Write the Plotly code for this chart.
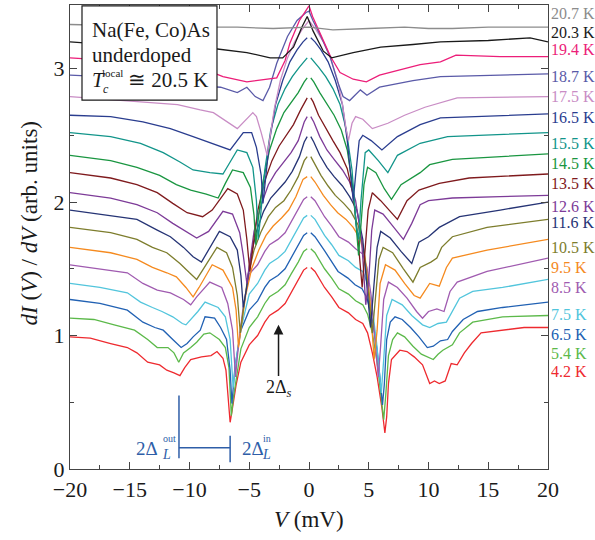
import plotly.graph_objects as go

SERIF = "Liberation Serif, Times New Roman, serif"

T_LABELS = ["4.2 K", "5.4 K", "6.5 K", "7.5 K", "8.5 K", "9.5 K", "10.5 K", "11.6 K", "12.6 K",
            "13.5 K", "14.5 K", "15.5 K", "16.5 K", "17.5 K", "18.7 K", "19.4 K", "20.3 K", "20.7 K"]

COLORS = ["#ee2a2f", "#5cb94a", "#2161b3", "#52c5dc", "#a05bb0", "#f58a1f", "#7d7d2d", "#263475",
          "#7d3b98", "#7f1a1d", "#1a9641", "#12958a", "#2a3d8f", "#c98dc5", "#5a5aa8", "#ec1e79",
          "#1a1a1a", "#8c8c8c"]

# (V in mV, dI/dV in arb. units); None = break at zero bias
S_4K2 = [(-20, 0.99), (-18.3, 0.98), (-16.6, 0.94), (-15.2, 0.91), (-14.4, 0.87), (-13.5, 0.80), (-12.5, 0.78),
         (-11.9, 0.74), (-11.3, 0.72), (-10.8, 0.70), (-10.4, 0.76), (-9.9, 0.82), (-9.0, 0.84), (-8.2, 0.85),
         (-7.7, 0.88), (-7.2, 0.83), (-6.95, 0.74), (-6.75, 0.55), (-6.6, 0.35), (-6.45, 0.43), (-6.1, 0.63),
         (-5.7, 0.80), (-5.0, 0.93), (-4.3, 1.00), (-3.7, 1.10), (-3.3, 1.15), (-2.6, 1.19), (-2.0, 1.24),
         (-1.5, 1.32), (-0.9, 1.41), (-0.45, 1.49), (-0.15, 1.51), (0, None), (0.15, 1.51), (0.5, 1.48),
         (1.3, 1.36), (1.9, 1.29), (2.5, 1.21), (3.3, 1.17), (3.9, 1.12), (4.5, 1.09), (4.9, 1.02), (5.3, 0.87),
         (5.7, 0.69), (6.1, 0.46), (6.35, 0.27), (6.5, 0.39), (6.65, 0.64), (6.9, 0.82), (7.6, 0.89), (8.2, 0.88),
         (8.8, 0.84), (9.5, 0.78), (10.1, 0.64), (10.5, 0.66), (10.9, 0.64), (11.4, 0.66), (11.9, 0.79),
         (12.4, 0.78), (13.0, 0.87), (13.6, 0.94), (14.4, 1.02), (16.0, 1.04), (18.0, 1.06), (20, 1.06)]

S_5K4 = [(-20, 1.13), (-18.0, 1.12), (-16.3, 1.08), (-14.6, 1.04), (-13.5, 0.97), (-12.7, 0.91), (-11.8, 0.91),
         (-11.3, 0.87), (-10.9, 0.80), (-10.5, 0.87), (-9.9, 0.91), (-9.4, 0.95), (-8.8, 1.01), (-8.3, 1.02),
         (-7.5, 0.97), (-7.0, 0.91), (-6.7, 0.76), (-6.5, 0.40), (-6.35, 0.52), (-6.1, 0.68), (-5.7, 0.90),
         (-5.0, 1.06), (-4.3, 1.14), (-3.7, 1.24), (-3.3, 1.29), (-2.6, 1.33), (-2.0, 1.38), (-1.5, 1.46),
         (-0.9, 1.55), (-0.45, 1.63), (-0.15, 1.65), (0, None), (0.15, 1.65), (0.5, 1.62), (1.3, 1.50),
         (1.9, 1.43), (2.5, 1.35), (3.3, 1.31), (3.9, 1.26), (4.5, 1.23), (4.9, 1.16), (5.3, 1.02), (5.7, 0.80),
         (6.0, 0.55), (6.25, 0.37), (6.42, 0.55), (6.65, 0.85), (7.0, 0.97), (7.4, 1.02), (8.0, 0.99), (8.7, 0.92),
         (9.4, 0.86), (9.9, 0.84), (10.4, 0.82), (10.8, 0.86), (11.2, 0.89), (12.0, 0.93), (12.6, 1.02),
         (13.7, 1.10), (16.2, 1.14), (20, 1.15)]

S_6K5 = [(-20, 1.27), (-17.5, 1.24), (-15.2, 1.19), (-13.9, 1.10), (-12.9, 1.06), (-12.2, 1.04), (-11.4, 0.97),
         (-10.7, 0.91), (-10.2, 0.94), (-9.7, 0.99), (-9.1, 1.04), (-8.7, 1.14), (-7.9, 1.13), (-7.4, 1.06),
         (-6.9, 0.97), (-6.6, 0.74), (-6.45, 0.49), (-6.2, 0.76), (-5.7, 1.04), (-5.0, 1.19), (-4.3, 1.26),
         (-3.7, 1.36), (-3.3, 1.41), (-2.6, 1.45), (-2.0, 1.50), (-1.5, 1.58), (-0.9, 1.67), (-0.45, 1.75),
         (-0.15, 1.77), (0, None), (0.15, 1.77), (0.5, 1.74), (1.34, 1.63), (1.92, 1.55), (2.43, 1.48),
         (3.26, 1.43), (3.85, 1.38), (4.44, 1.35), (4.85, 1.28), (5.27, 1.13), (5.69, 0.90), (6.0, 0.63),
         (6.15, 0.48), (6.3, 0.63), (6.5, 0.97), (6.8, 1.10), (7.2, 1.14), (7.8, 1.12), (8.5, 1.06), (9.2, 0.99),
         (9.7, 0.93), (9.9, 0.91), (10.4, 0.92), (11.0, 0.96), (11.6, 0.97), (12.0, 1.03), (12.9, 1.12),
         (14.1, 1.18), (16.2, 1.21), (20, 1.25)]

S_7K5 = [(-20, 1.39), (-17.5, 1.36), (-15.2, 1.32), (-14.1, 1.25), (-13.1, 1.21), (-12.3, 1.18), (-11.4, 1.14),
         (-10.6, 1.09), (-10.3, 1.08), (-9.9, 1.12), (-9.3, 1.18), (-8.7, 1.25), (-7.6, 1.21), (-7.0, 1.14),
         (-6.6, 0.97), (-6.35, 0.61), (-6.1, 0.82), (-5.7, 1.05), (-5.0, 1.31), (-4.3, 1.39), (-3.7, 1.49),
         (-3.3, 1.54), (-2.6, 1.58), (-2.0, 1.63), (-1.5, 1.71), (-0.9, 1.80), (-0.45, 1.88), (-0.15, 1.90),
         (0, None), (0.15, 1.90), (0.5, 1.87), (1.3, 1.75), (1.9, 1.68), (2.5, 1.60), (3.3, 1.56), (3.9, 1.51),
         (4.5, 1.48), (4.9, 1.39), (5.3, 1.20), (5.65, 0.95), (5.9, 0.72), (6.05, 0.57), (6.25, 0.82),
         (6.5, 1.15), (6.95, 1.27), (7.8, 1.23), (8.6, 1.15), (9.5, 1.08), (10.1, 1.06), (10.8, 1.09),
         (11.5, 1.10), (12.0, 1.18), (12.6, 1.28), (13.7, 1.33), (16.2, 1.36), (20, 1.42)]

S_8K5 = [(-20, 1.53), (-17.5, 1.50), (-15.2, 1.47), (-13.9, 1.39), (-12.7, 1.34), (-11.6, 1.32), (-10.5, 1.27),
         (-9.9, 1.23), (-9.4, 1.29), (-8.3, 1.40), (-7.3, 1.36), (-6.8, 1.24), (-6.4, 1.04), (-6.15, 0.69),
         (-5.9, 0.93), (-5.5, 1.22), (-5.0, 1.46), (-4.3, 1.53), (-3.7, 1.63), (-3.3, 1.68), (-2.6, 1.72),
         (-2.0, 1.77), (-1.5, 1.85), (-0.9, 1.94), (-0.45, 2.02), (-0.15, 2.04), (0, None), (0.15, 2.04),
         (0.5, 2.01), (1.3, 1.89), (1.9, 1.82), (2.5, 1.74), (3.3, 1.70), (3.9, 1.65), (4.5, 1.61), (4.85, 1.51),
         (5.2, 1.30), (5.55, 0.93), (5.8, 0.69), (6.0, 0.93), (6.25, 1.27), (6.65, 1.40), (7.4, 1.36),
         (8.2, 1.28), (9.0, 1.18), (9.5, 1.13), (10.0, 1.18), (10.7, 1.20), (11.3, 1.18), (11.8, 1.33),
         (12.4, 1.40), (14.9, 1.48), (20, 1.58)]

S_9K5 = [(-20, 1.66), (-16.6, 1.62), (-14.4, 1.57), (-13.1, 1.51), (-11.9, 1.47), (-11.1, 1.44), (-10.3, 1.36),
         (-9.7, 1.29), (-9.2, 1.36), (-8.1, 1.53), (-7.2, 1.49), (-6.4, 1.36), (-6.1, 1.19), (-5.9, 0.91),
         (-5.65, 1.08), (-5.3, 1.30), (-4.8, 1.50), (-4.2, 1.64), (-3.6, 1.75), (-3.0, 1.82), (-2.3, 1.88),
         (-1.7, 1.94), (-1.1, 2.04), (-0.5, 2.17), (-0.15, 2.19), (0, None), (0.15, 2.19), (0.5, 2.15),
         (1.2, 2.05), (1.8, 1.98), (2.4, 1.92), (3.1, 1.87), (3.7, 1.81), (4.3, 1.72), (4.7, 1.58), (5.1, 1.27),
         (5.45, 0.82), (5.7, 1.04), (5.95, 1.39), (6.4, 1.53), (7.2, 1.49), (8.0, 1.39), (8.8, 1.30), (9.3, 1.28),
         (10.1, 1.39), (10.9, 1.37), (11.5, 1.51), (12.0, 1.58), (14.9, 1.64), (20, 1.72)]

S_10K5 = [(-20, 1.81), (-16.6, 1.77), (-14.4, 1.72), (-13.1, 1.66), (-11.9, 1.62), (-10.8, 1.54), (-10.0, 1.47),
          (-9.4, 1.42), (-8.9, 1.49), (-7.7, 1.66), (-6.9, 1.62), (-6.4, 1.51), (-6.0, 1.30), (-5.75, 1.02),
          (-5.5, 1.19), (-5.1, 1.45), (-4.6, 1.64), (-4.0, 1.78), (-3.4, 1.89), (-2.8, 1.96), (-2.1, 2.01),
          (-1.5, 2.09), (-0.9, 2.19), (-0.4, 2.31), (-0.15, 2.34), (0, None), (0.15, 2.34), (0.4, 2.30),
          (1.0, 2.20), (1.6, 2.12), (2.2, 2.05), (2.9, 1.99), (3.5, 1.93), (4.1, 1.83), (4.6, 1.64), (5.0, 1.30),
          (5.3, 1.02), (5.55, 1.27), (5.85, 1.57), (6.2, 1.66), (7.0, 1.62), (7.9, 1.50), (8.7, 1.40),
          (9.3, 1.51), (10.2, 1.55), (10.7, 1.58), (11.1, 1.66), (12.0, 1.74), (14.9, 1.81), (20, 1.87)]

S_11K6 = [(-20, 1.94), (-16.6, 1.90), (-14.4, 1.87), (-12.7, 1.79), (-11.6, 1.74), (-10.5, 1.66), (-9.7, 1.59),
          (-9.0, 1.55), (-8.5, 1.63), (-7.5, 1.78), (-6.6, 1.74), (-6.0, 1.64), (-5.7, 1.45), (-5.5, 1.21),
          (-5.25, 1.34), (-4.9, 1.58), (-4.4, 1.78), (-3.8, 1.93), (-3.2, 2.03), (-2.6, 2.09), (-2.0, 2.15),
          (-1.4, 2.23), (-0.8, 2.34), (-0.4, 2.45), (-0.15, 2.49), (0, None), (0.15, 2.49), (0.4, 2.45),
          (0.9, 2.35), (1.5, 2.26), (2.1, 2.19), (2.8, 2.12), (3.4, 2.04), (4.0, 1.94), (4.5, 1.72), (4.9, 1.34),
          (5.15, 1.06), (5.4, 1.34), (5.7, 1.66), (6.0, 1.78), (6.8, 1.73), (7.7, 1.63), (8.6, 1.54), (9.2, 1.70),
          (10.0, 1.74), (10.9, 1.81), (12.6, 1.89), (16, 1.94), (20, 2.00)]

S_12K6 = [(-20, 2.07), (-16.6, 2.03), (-14.4, 1.98), (-12.7, 1.92), (-11.4, 1.84), (-10.2, 1.77), (-9.4, 1.73),
          (-8.4, 1.78), (-7.2, 1.93), (-6.4, 1.91), (-5.8, 1.77), (-5.5, 1.60), (-5.2, 1.39), (-4.95, 1.55),
          (-4.6, 1.78), (-4.0, 1.98), (-3.4, 2.13), (-2.8, 2.22), (-2.1, 2.30), (-1.5, 2.37), (-0.9, 2.46),
          (-0.4, 2.60), (-0.15, 2.64), (0, None), (0.15, 2.64), (0.4, 2.60), (0.9, 2.49), (1.5, 2.39),
          (2.1, 2.32), (2.8, 2.24), (3.4, 2.15), (3.9, 2.01), (4.4, 1.72), (4.75, 1.23), (5.0, 1.42), (5.25, 1.79),
          (5.5, 1.94), (6.2, 1.91), (7.1, 1.81), (7.9, 1.72), (8.6, 1.84), (9.3, 1.98), (10.0, 2.01), (12.0, 2.03),
          (16, 2.04), (20, 2.05)]

S_13K5 = [(-20, 2.22), (-16.6, 2.18), (-14.4, 2.13), (-12.7, 2.07), (-11.4, 1.99), (-10.2, 1.92), (-8.9, 1.89),
          (-8.1, 1.94), (-6.8, 2.10), (-6.0, 2.06), (-5.5, 1.94), (-5.2, 1.72), (-4.95, 1.48), (-4.7, 1.64),
          (-4.3, 1.93), (-3.7, 2.16), (-3.1, 2.31), (-2.5, 2.42), (-1.9, 2.50), (-1.3, 2.58), (-0.7, 2.69),
          (-0.35, 2.75), (-0.15, 2.78), (0, None), (0.15, 2.78), (0.35, 2.75), (0.8, 2.65), (1.4, 2.55),
          (2.0, 2.46), (2.6, 2.37), (3.2, 2.25), (3.7, 2.05), (4.1, 1.72), (4.45, 1.36), (4.7, 1.64), (4.95, 1.94),
          (5.3, 2.07), (6.0, 2.01), (6.8, 1.93), (7.4, 1.87), (8.2, 2.01), (9.2, 2.09), (10.9, 2.14),
          (13.4, 2.18), (20, 2.21)]

S_14K5 = [(-20, 2.35), (-16.6, 2.31), (-14.4, 2.26), (-12.5, 2.20), (-11.1, 2.13), (-9.9, 2.09), (-8.6, 2.06),
          (-7.6, 2.03), (-7.0, 2.14), (-6.4, 2.24), (-5.5, 2.22), (-4.9, 2.11), (-4.6, 1.90), (-4.45, 1.68),
          (-4.3, 1.83), (-3.9, 2.13), (-3.3, 2.39), (-2.7, 2.55), (-2.1, 2.67), (-1.5, 2.75), (-0.9, 2.82),
          (-0.4, 2.90), (-0.15, 2.93), (0, None), (0.15, 2.93), (0.4, 2.90), (0.9, 2.82), (1.5, 2.74),
          (2.1, 2.65), (2.7, 2.54), (3.2, 2.39), (3.7, 2.09), (4.15, 1.60), (4.35, 1.83), (4.6, 2.13),
          (4.9, 2.26), (5.6, 2.22), (6.3, 2.10), (6.9, 2.02), (7.7, 2.13), (9.3, 2.22), (10.1, 2.28),
          (12.0, 2.32), (20, 2.36)]

S_15K5 = [(-20, 2.52), (-16.6, 2.49), (-14.1, 2.44), (-12.2, 2.37), (-10.8, 2.30), (-9.7, 2.24), (-8.3, 2.22),
          (-7.2, 2.21), (-6.6, 2.30), (-6.0, 2.39), (-5.2, 2.37), (-4.7, 2.26), (-4.4, 2.01), (-4.25, 1.72),
          (-4.05, 1.90), (-3.7, 2.24), (-3.2, 2.54), (-2.6, 2.73), (-2.0, 2.85), (-1.4, 2.94), (-0.8, 3.01),
          (-0.35, 3.06), (-0.15, 3.08), (0, None), (0.15, 3.08), (0.35, 3.06), (0.8, 3.01), (1.4, 2.94),
          (2.0, 2.85), (2.6, 2.73), (3.1, 2.55), (3.6, 2.24), (3.95, 1.83), (4.15, 1.72), (4.35, 2.01),
          (4.7, 2.37), (5.0, 2.39), (5.8, 2.31), (6.6, 2.22), (7.4, 2.35), (9.3, 2.44), (11.6, 2.49), (20, 2.52)]

S_16K5 = [(-20, 2.65), (-16.6, 2.64), (-13.9, 2.60), (-11.6, 2.55), (-9.7, 2.49), (-8.2, 2.44), (-6.6, 2.39),
          (-5.5, 2.52), (-4.8, 2.52), (-4.4, 2.41), (-4.0, 2.20), (-3.85, 1.99), (-3.65, 2.17), (-3.3, 2.46),
          (-2.8, 2.73), (-2.2, 2.91), (-1.6, 3.05), (-1.0, 3.14), (-0.5, 3.20), (-0.15, 3.23), (0, None),
          (0.15, 3.23), (0.5, 3.20), (1.0, 3.14), (1.6, 3.05), (2.2, 2.91), (2.8, 2.73), (3.2, 2.46), (3.5, 2.17),
          (3.7, 2.01), (3.9, 2.20), (4.2, 2.46), (4.5, 2.50), (5.2, 2.46), (6.1, 2.39), (7.4, 2.49), (9.3, 2.58),
          (11.0, 2.63), (20, 2.66)]

S_17K5 = [(-20, 2.79), (-15.2, 2.76), (-11.0, 2.73), (-9.1, 2.69), (-8.0, 2.67), (-6.0, 2.55), (-4.7, 2.67),
          (-4.4, 2.64), (-4.0, 2.52), (-3.5, 2.35), (-3.3, 2.46), (-2.9, 2.70), (-2.4, 2.91), (-1.8, 3.08),
          (-1.2, 3.20), (-0.6, 3.29), (0, 3.36), (0.6, 3.29), (1.2, 3.20), (1.8, 3.08), (2.4, 2.91), (2.8, 2.73),
          (3.1, 2.55), (3.3, 2.46), (3.6, 2.59), (3.9, 2.64), (4.5, 2.62), (5.3, 2.55), (6.6, 2.59), (8.0, 2.65),
          (9.7, 2.71), (12.4, 2.78), (20, 2.79)]

S_18K7 = [(-20, 2.95), (-15, 2.93), (-10.8, 2.88), (-7.4, 2.86), (-6.0, 2.82), (-5.2, 2.86), (-4.5, 2.79),
          (-3.85, 2.76), (-3.3, 2.86), (-2.7, 3.04), (-1.8, 3.24), (-1.0, 3.36), (-0.25, 3.42), (0, 3.43),
          (0.33, 3.36), (1.0, 3.24), (1.76, 3.09), (2.4, 2.90), (2.85, 2.79), (3.4, 2.76), (4.3, 2.84),
          (4.85, 2.80), (5.9, 2.86), (8.7, 2.91), (11, 2.94), (20, 2.96)]

S_19K4 = [(-20, 3.08), (-14, 3.05), (-10.9, 3.03), (-9.2, 3.01), (-7.2, 2.94), (-5.2, 2.90), (-3.8, 2.92),
          (-2.7, 2.93), (-2.0, 3.06), (-1.6, 3.19), (-0.8, 3.36), (-0.2, 3.45), (0, 3.47), (0.3, 3.39),
          (0.9, 3.27), (1.8, 3.09), (2.6, 2.97), (3.7, 2.92), (4.8, 2.90), (5.9, 2.95), (7.6, 2.99), (9.3, 3.03),
          (11.0, 3.05), (12.3, 3.10), (16, 3.09), (20, 3.09)]

S_20K3 = [(-20, 3.20), (-13.8, 3.16), (-8.0, 3.15), (-5.2, 3.12), (-3.25, 3.08), (-2.2, 3.08), (-1.3, 3.16),
          (-0.6, 3.31), (-0.15, 3.39), (0.35, 3.28), (1.2, 3.13), (1.9, 3.08), (3.7, 3.12), (6.0, 3.16),
          (8.7, 3.18), (11, 3.20), (15, 3.21), (18.5, 3.23), (20, 3.20)]

S_20K7 = [(-20, 3.33), (-10, 3.31), (-6, 3.31), (-3, 3.30), (0, 3.31), (2, 3.29), (5, 3.30), (8, 3.31),
          (10, 3.30), (12, 3.30), (15, 3.31), (20, 3.31)]

CURVES = [S_4K2, S_5K4, S_6K5, S_7K5, S_8K5, S_9K5, S_10K5, S_11K6, S_12K6, S_13K5, S_14K5, S_15K5,
          S_16K5, S_17K5, S_18K7, S_19K4, S_20K3, S_20K7]

# vertical placement of the temperature labels at the right (data units)
LABEL_Y = [0.727, 0.869, 1.004, 1.154, 1.356, 1.506, 1.663, 1.843, 1.963, 2.142, 2.292, 2.442, 2.637,
           2.787, 2.944, 3.139, 3.273, 3.416]

fig = go.Figure()
for pts, col, name in zip(CURVES, COLORS, T_LABELS):
    fig.add_trace(go.Scatter(x=[p[0] for p in pts], y=[p[1] for p in pts], mode="lines",
                             line=dict(color=col, width=1.3), name=name, showlegend=False,
                             connectgaps=False, hoverinfo="skip"))

ann = []
for name, col, ly in zip(T_LABELS, COLORS, LABEL_Y):
    ann.append(dict(text=name, x=1.0, xref="paper", y=ly, yref="y", xanchor="left", yanchor="middle",
                    xshift=1, showarrow=False, font=dict(family=SERIF, size=16, color=col)))

BLK = "#1a1a1a"
# inset box text
ann += [
    dict(text="Na(Fe, Co)As", x=0.042, y=0.946, xref="paper", yref="paper", xanchor="left", yanchor="middle",
         showarrow=False, font=dict(family=SERIF, size=21, color=BLK)),
    dict(text="underdoped", x=0.042, y=0.892, xref="paper", yref="paper", xanchor="left", yanchor="middle",
         showarrow=False, font=dict(family=SERIF, size=21, color=BLK)),
    dict(text="<i>T</i>", x=0.042, y=0.838, xref="paper", yref="paper", xanchor="left", yanchor="middle",
         showarrow=False, font=dict(family=SERIF, size=21, color=BLK)),
    dict(text="local", x=0.063, y=0.853, xref="paper", yref="paper", xanchor="left", yanchor="middle",
         showarrow=False, font=dict(family=SERIF, size=11, color=BLK)),
    dict(text="<i>c</i>", x=0.064, y=0.818, xref="paper", yref="paper", xanchor="left", yanchor="middle",
         showarrow=False, font=dict(family=SERIF, size=12, color=BLK)),
    dict(text="≅ 20.5 K", x=0.117, y=0.838, xref="paper", yref="paper", xanchor="left", yanchor="middle",
         showarrow=False, font=dict(family=SERIF, size=21, color=BLK)),
]

# 2Δs label with its arrow
ann.append(dict(text="2Δ<sub><i>s</i></sub>", x=-2.55, y=1.08, ax=-2.55, ay=0.60, xref="x", yref="y",
                axref="x", ayref="y", showarrow=True, arrowhead=2, arrowsize=1.3, arrowwidth=1.5,
                arrowcolor=BLK, font=dict(family=SERIF, size=18, color=BLK)))

BLUE = "#2e5ea8"
ann += [
    dict(text="2Δ", x=-12.47, y=0.157, xref="x", yref="y", xanchor="right", yanchor="middle",
         showarrow=False, font=dict(family=SERIF, size=19, color=BLUE)),
    dict(text="<i>L</i>", x=-12.47, y=0.11, xref="x", yref="y", xanchor="left", yanchor="middle",
         showarrow=False, font=dict(family=SERIF, size=14, color=BLUE)),
    dict(text="out", x=-12.42, y=0.23, xref="x", yref="y", xanchor="left", yanchor="middle",
         showarrow=False, font=dict(family=SERIF, size=10, color=BLUE)),
    dict(text="2Δ", x=-5.8, y=0.157, xref="x", yref="y", xanchor="left", yanchor="middle",
         showarrow=False, font=dict(family=SERIF, size=19, color=BLUE)),
    dict(text="<i>L</i>", x=-4.1, y=0.11, xref="x", yref="y", xanchor="left", yanchor="middle",
         showarrow=False, font=dict(family=SERIF, size=14, color=BLUE)),
    dict(text="in", x=-4.0, y=0.23, xref="x", yref="y", xanchor="left", yanchor="middle",
         showarrow=False, font=dict(family=SERIF, size=10, color=BLUE)),
]

# axis titles
ann += [
    dict(text="<i>V</i> (mV)", x=0.5, y=-0.108, xref="paper", yref="paper", xanchor="center", yanchor="middle",
         showarrow=False, font=dict(family=SERIF, size=23, color=BLK)),
    dict(text="<i>dI</i> (<i>V</i>) / <i>dV</i> (arb. units)", x=-0.085, y=0.53, xref="paper", yref="paper",
         xanchor="center", yanchor="middle", textangle=-90, showarrow=False,
         font=dict(family=SERIF, size=23, color=BLK)),
]

shapes = [
    dict(type="rect", xref="paper", yref="paper", x0=0.0251, x1=0.3075, y0=0.795, y1=0.998,
         fillcolor="white", line=dict(color=BLK, width=1.2), layer="above"),
    dict(type="line", xref="x", yref="y", x0=-10.88, x1=-10.88, y0=0.08, y1=0.55, line=dict(color=BLUE, width=1.5)),
    dict(type="line", xref="x", yref="y", x0=-6.6, x1=-6.6, y0=0.05, y1=0.25, line=dict(color=BLUE, width=1.5)),
    dict(type="line", xref="x", yref="y", x0=-10.88, x1=-6.6, y0=0.16, y1=0.16, line=dict(color=BLUE, width=1.5)),
]

axis_common = dict(showgrid=False, zeroline=False, showline=True, linecolor="#444", linewidth=1.3,
                   mirror="ticks", ticks="inside", ticklen=7, tickwidth=1.2, tickcolor="#444",
                   tickfont=dict(family=SERIF, size=22, color=BLK))

fig.update_layout(
    width=595, height=540,
    margin=dict(l=70, r=47, t=5, b=71),
    paper_bgcolor="white", plot_bgcolor="white",
    xaxis=dict(range=[-20, 20], dtick=5, tick0=0,
               minor=dict(dtick=2.5, ticks="inside", ticklen=4, tickcolor="#444"), **axis_common),
    yaxis=dict(range=[0, 3.476], dtick=1, tick0=0,
               minor=dict(dtick=0.5, ticks="inside", ticklen=4, tickcolor="#444"), **axis_common),
    annotations=ann, shapes=shapes,
)

fig.write_html("out.html", config={"displayModeBar": False},
               post_script="document.body.style.margin='0';")
